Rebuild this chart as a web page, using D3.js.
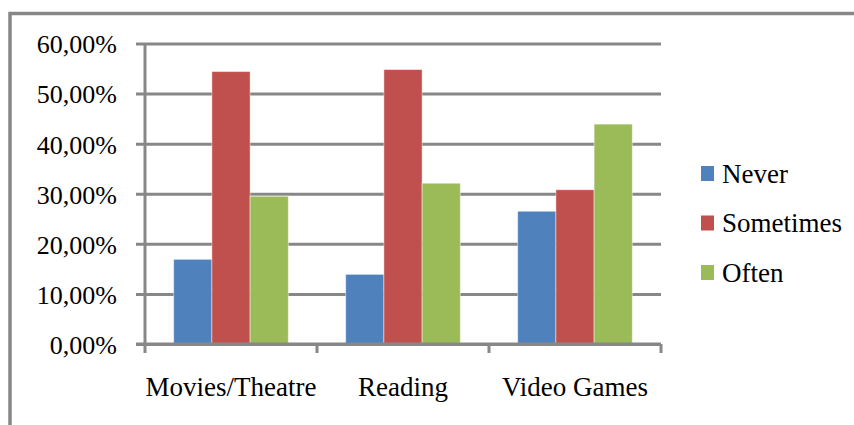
<!DOCTYPE html>
<html lang="en">
<head>
<meta charset="utf-8">
<title>Never / Sometimes / Often</title>
<script src="https://cdn.jsdelivr.net/npm/d3@7"></script>
<style>
  body { margin: 0; background: #fff; }
  .grid line { stroke: #878787; stroke-width: 3; }
</style>
</head>
<body>
<svg id="chart" width="854" height="425"></svg>
<script>
// data
var categories = ["Movies/Theatre", "Reading", "Video Games"];
var series = ["Never", "Sometimes", "Often"];
var never = [0.169, 0.139, 0.265];
var sometimes = [0.544, 0.548, 0.308];
var often = [0.295, 0.321, 0.439];
var yTicks = [0, 0.1, 0.2, 0.3, 0.4, 0.5, 0.6];
var yTickLabels = ["0,00%", "10,00%", "20,00%", "30,00%", "40,00%", "50,00%", "60,00%"];
var colors = ["#4F81BD", "#C0504D", "#9BBB59"];

var values = [never, sometimes, often];
var serif = "'Liberation Serif', 'Times New Roman', serif";

var svg = d3.select("#chart");

// outer frame (only top and left edge visible)
svg.append("path")
    .attr("d", "M10,425 L10,13.5 L854,13.5")
    .attr("fill", "none")
    .attr("stroke", "#878787")
    .attr("stroke-width", 3.5);

var y = d3.scaleLinear().domain([0, 0.6]).range([344, 43.5]);
var x0 = d3.scaleBand().domain(categories).range([145, 661]).paddingInner(0).paddingOuter(0);
var x1 = d3.scaleBand().domain(series).range([0, x0.bandwidth()]).paddingInner(0).paddingOuter(0.75);
var color = d3.scaleOrdinal().domain(series).range(colors);

// gridlines + tick labels
var yAxis = d3.axisLeft(y)
    .tickValues(yTicks)
    .tickFormat(function (d, i) { return yTickLabels[i]; })
    .tickSize(661 - 136)
    .tickPadding(19);

var gy = svg.append("g")
    .attr("class", "grid")
    .attr("transform", "translate(661,0)")
    .call(yAxis)
    .attr("font-family", serif)
    .attr("font-size", 26);
gy.select(".domain").remove();
gy.selectAll("text")
    .style("font-family", serif)
    .attr("fill", "#000")
    .attr("dy", "0.36em");

// vertical axis line
svg.append("line")
    .attr("x1", x0.range()[0]).attr("x2", x0.range()[0])
    .attr("y1", y(0.6)).attr("y2", 353)
    .attr("stroke", "#878787").attr("stroke-width", 3);

// category tick marks
var catEdges = categories.map(function (c) { return x0(c) + x0.bandwidth(); });
svg.selectAll(".cattick")
    .data(catEdges)
    .enter().append("line")
    .attr("x1", function (d) { return d; }).attr("x2", function (d) { return d; })
    .attr("y1", y(0)).attr("y2", 353)
    .attr("stroke", "#878787").attr("stroke-width", 3);

// bars
var groups = svg.selectAll(".cat")
    .data(categories)
    .enter().append("g")
    .attr("transform", function (c) { return "translate(" + x0(c) + ",0)"; });

groups.selectAll("rect")
    .data(function (c, ci) {
        return series.map(function (s, si) { return { s: s, v: values[si][ci] }; });
    })
    .enter().append("rect")
    .attr("x", function (d) { return x1(d.s); })
    .attr("width", x1.bandwidth())
    .attr("y", function (d) { return y(d.v); })
    .attr("height", function (d) { return y(0) - y(d.v); })
    .attr("fill", function (d) { return color(d.s); })
    .attr("stroke", "rgba(255,255,255,0.45)")
    .attr("stroke-width", 1);

// x axis line drawn over bar bottoms
svg.append("line")
    .attr("x1", 136).attr("x2", 661)
    .attr("y1", y(0)).attr("y2", y(0))
    .attr("stroke", "#878787").attr("stroke-width", 3);

// category labels
svg.selectAll(".catlabel")
    .data(categories)
    .enter().append("text")
    .attr("x", function (c) { return x0(c) + x0.bandwidth() / 2; })
    .attr("y", 396)
    .attr("text-anchor", "middle")
    .style("font-family", serif)
    .attr("font-size", 27)
    .text(function (c) { return c; });

// legend
var legend = svg.selectAll(".legend")
    .data(series)
    .enter().append("g")
    .attr("transform", function (s, i) { return "translate(701," + (166 + i * 49.5) + ")"; });

legend.append("rect")
    .attr("width", 13)
    .attr("height", 15)
    .attr("fill", function (s) { return color(s); });

legend.append("text")
    .attr("x", 21)
    .attr("y", 16.5)
    .style("font-family", serif)
    .attr("font-size", 27)
    .text(function (s) { return s; });
</script>
</body>
</html>
